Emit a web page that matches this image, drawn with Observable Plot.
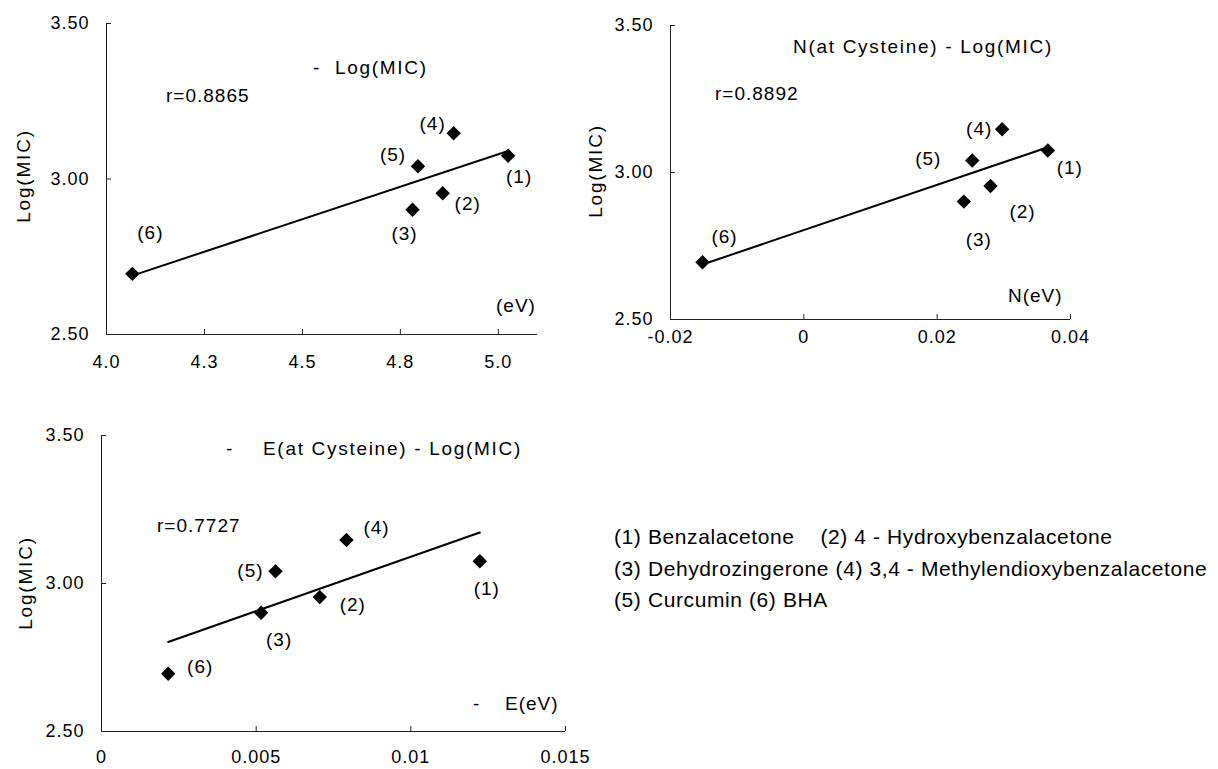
<!DOCTYPE html>
<html>
<head>
<meta charset="utf-8">
<script src="https://cdn.jsdelivr.net/npm/d3@7"></script>
<script src="https://cdn.jsdelivr.net/npm/@observablehq/plot@0.6"></script>
<style>
  html, body { margin: 0; padding: 0; background: #fff; }
  #root { position: relative; width: 1218px; height: 769px; overflow: hidden; background: #fff;
          font-family: "Liberation Sans", Arial, sans-serif; font-size: 19px; letter-spacing: 1px; color: #000; }
  .panel { position: absolute; }
  .note { position: absolute; line-height: 1; white-space: pre; }
  .title { letter-spacing: 1.7px; }
  .ytitle { position: absolute; line-height: 1; white-space: pre; letter-spacing: 1.8px;
            transform: translate(-50%, -50%) rotate(-90deg); }
  #legend { position: absolute; left: 614px; top: 521px; line-height: 31.5px; white-space: pre;
            font-size: 21px; letter-spacing: 0.6px; }
</style>
</head>
<body>
<div id="root"></div>
<script>
// ---- data ----
const compounds = ["(1)", "(2)", "(3)", "(4)", "(5)", "(6)"];
const logMIC    = [3.075, 2.954, 2.901, 3.147, 3.041, 2.695];
const xEnergy   = [5.025, 4.858, 4.781, 4.886, 4.795, 4.066];            // (eV)
const xN        = [0.0366, 0.0280, 0.0240, 0.02975, 0.02527, -0.0152];  // N(eV)
const xE        = [0.01223, 0.007056, 0.00516, 0.00792, 0.005624, 0.002156]; // E(eV)

const yTicks = [2.5, 3.0, 3.5];
const yTickLabels = ["2.50", "3.00", "3.50"];
const xTicks1 = [4.0, 4.25, 4.5, 4.75, 5.0];
const xTickLabels1 = ["4.0", "4.3", "4.5", "4.8", "5.0"];
const xTicks2 = [-0.02, 0, 0.02, 0.04];
const xTickLabels2 = ["-0.02", "0", "0.02", "0.04"];
const xTicks3 = [0, 0.005, 0.01, 0.015];
const xTickLabels3 = ["0", "0.005", "0.01", "0.015"];

const legendLines = [
  "(1) Benzalacetone    (2) 4 - Hydroxybenzalacetone",
  "(3) Dehydrozingerone (4) 3,4 - Methylendioxybenzalacetone",
  "(5) Curcumin (6) BHA"
];

// ---- layout / style config (pixel offsets of the point labels) ----
const labelOffsets1 = [[11, 21], [25, 11], [-8, 24], [-21, -9], [-25, -11], [18, -41]];
const labelOffsets2 = [[22, 17], [32, 26], [15, 38], [-23, 0], [-44, -2], [22, -25]];
const labelOffsets3 = [[7, 28], [33, 8], [18, 27], [30, -12], [-25, 0], [32, -7]];

const root = document.getElementById("root");

function panel({xs, xDomain, xTicks, xTickLabels, offsets, left, top, width, height,
                marginLeft, marginRight, marginTop, marginBottom, xPad}) {
  const data = compounds.map((c, i) => ({label: c, x: xs[i], y: logMIC[i]}));
  const chart = Plot.plot({
    width, height, marginLeft, marginRight, marginTop, marginBottom,
    style: {fontFamily: "Liberation Sans, Arial, sans-serif", fontSize: "18px",
            letterSpacing: "1px", color: "#000", background: "transparent", overflow: "visible"},
    x: {domain: xDomain},
    y: {domain: [2.5, 3.5]},
    marks: [
      Plot.ruleX([xDomain[0]], {stroke: "#222"}),
      Plot.ruleY([2.5], {stroke: "#222"}),
      Plot.axisX({ticks: xTicks, tickFormat: (d, i) => xTickLabels[i], tickSize: -5,
                  tickPadding: xPad, label: null, stroke: "#222"}),
      Plot.axisY({ticks: yTicks, tickFormat: (d, i) => yTickLabels[i], tickSize: -5,
                  tickPadding: 22, label: null, stroke: "#222"}),
      Plot.linearRegressionY(data, {x: "x", y: "y", ci: 0, stroke: "#000", strokeWidth: 2}),
      Plot.dot(data, {x: "x", y: "y", symbol: "diamond2", r: 6.5, fill: "#000"}),
      ...data.map((d, i) => Plot.text([d], {x: "x", y: "y", text: "label", fontSize: 19,
                                           dx: offsets[i][0], dy: offsets[i][1], fill: "#000"}))
    ]
  });
  chart.classList.add("panel");
  chart.style.left = left + "px";
  chart.style.top = top + "px";
  root.appendChild(chart);
}

panel({xs: xEnergy, xDomain: [4.0, 5.1], xTicks: xTicks1, xTickLabels: xTickLabels1, offsets: labelOffsets1,
       left: 0, top: 0, width: 560, height: 380, marginLeft: 106, marginRight: 23, marginTop: 23, marginBottom: 46, xPad: 26});
panel({xs: xN, xDomain: [-0.02, 0.04], xTicks: xTicks2, xTickLabels: xTickLabels2, offsets: labelOffsets2,
       left: 580, top: 0, width: 520, height: 370, marginLeft: 90, marginRight: 30, marginTop: 25, marginBottom: 51, xPad: 16});
panel({xs: xE, xDomain: [0, 0.015], xTicks: xTicks3, xTickLabels: xTickLabels3, offsets: labelOffsets3,
       left: 0, top: 400, width: 600, height: 369, marginLeft: 101, marginRight: 35, marginTop: 35, marginBottom: 38, xPad: 24});

// ---- annotations ----
function note(text, left, top, cls) {
  const d = document.createElement("div");
  d.className = "note" + (cls ? " " + cls : ""); d.textContent = text;
  d.style.left = left + "px"; d.style.top = top + "px";
  root.appendChild(d);
}
function ytitle(text, cx, cy) {
  const d = document.createElement("div");
  d.className = "ytitle"; d.textContent = text;
  d.style.left = cx + "px"; d.style.top = cy + "px";
  root.appendChild(d);
}
note("-  Log(MIC)", 313, 58, "title");
note("r=0.8865", 166, 86);
note("(eV)", 496, 296);
ytitle("Log(MIC)", 23, 176);

note("N(at Cysteine) - Log(MIC)", 793, 37, "title");
note("r=0.8892", 715, 84);
note("N(eV)", 1008, 286);
ytitle("Log(MIC)", 595, 171);

note("-", 226, 439);
note("E(at Cysteine) - Log(MIC)", 263, 439, "title");
note("r=0.7727", 157, 516);
note("-", 473, 694);
note("E(eV)", 505, 694);
ytitle("Log(MIC)", 25, 583);

const lg = document.createElement("div");
lg.id = "legend";
lg.textContent = legendLines.join("\n");
root.appendChild(lg);
</script>
</body>
</html>
